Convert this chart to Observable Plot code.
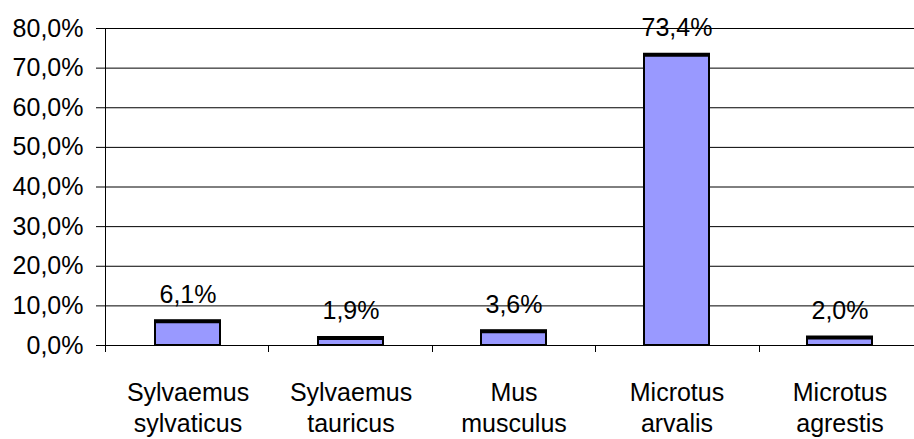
<!DOCTYPE html>
<html><head><meta charset="utf-8">
<script src="https://cdn.jsdelivr.net/npm/d3@7"></script>
<script src="https://cdn.jsdelivr.net/npm/@observablehq/plot@0.6"></script>
<style>body{margin:0;background:#fff;overflow:hidden}</style>
</head><body><div id="chart"></div>
<script>
const categories = ["Sylvaemus sylvaticus", "Sylvaemus tauricus", "Mus musculus", "Microtus arvalis", "Microtus agrestis"];
const values = [6.1, 1.9, 3.6, 73.4, 2.0];
const yTicks = [0, 10, 20, 30, 40, 50, 60, 70, 80];
const data = categories.map((c, i) => ({species: c, value: values[i]}));
const fmt = d => d.toFixed(1).replace(".", ",") + "%";

// category boundary ticks + vertical value axis line, from scales/dimensions
const boundaryTicks = (index, scales, vals, dimensions) => {
  const {width, marginLeft, marginRight} = dimensions;
  const n = categories.length;
  const step = (width - marginLeft - marginRight) / n;
  const y0 = scales.y(0), yTop = scales.y(d3.max(yTicks));
  const g = d3.create("svg:g").attr("stroke", "black").attr("stroke-width", 1);
  g.append("line").attr("x1", marginLeft + 0.5).attr("x2", marginLeft + 0.5)
    .attr("y1", yTop).attr("y2", y0 + 7);
  for (let i = 1; i <= n; i++) {
    const x = Math.round(marginLeft + i * step) + 0.5;
    g.append("line").attr("x1", x).attr("x2", x).attr("y1", y0).attr("y2", y0 + 7);
  }
  return g.node();
};

const chart = Plot.plot({
  width: 914, height: 439,
  marginTop: 28, marginBottom: 94, marginLeft: 105, marginRight: -8,
  style: {fontFamily: "'Liberation Sans', Arial, sans-serif", background: "white", color: "black"},
  x: {domain: categories, paddingInner: 0.6, paddingOuter: 0.3, label: null},
  y: {domain: [0, 80], label: null},
  marks: [
    Plot.gridY(yTicks, {stroke: "black", strokeOpacity: 1}),
    Plot.axisY(yTicks, {tickSize: 9, tickPadding: 13, tickFormat: fmt, fontSize: 25, label: null, stroke: "black"}),
    Plot.axisX({tickSize: 0, tickPadding: 33, fontSize: 25, lineHeight: 1.25, tickFormat: d => d.replace(" ", "\n"), label: null}),
    Plot.ruleY([0], {stroke: "black"}),
    Plot.barY(data, {x: "species", y: "value", fill: "#9999FF", stroke: "black", strokeWidth: 2}),
    Plot.tickY(data, {x: "species", y: "value", stroke: "black", strokeWidth: 4, insetLeft: -1, insetRight: -1}),
    Plot.text(data, {x: "species", y: "value", text: d => fmt(d.value), dy: -18.7, lineAnchor: "bottom", fontSize: 25, fill: "black"}),
    boundaryTicks
  ]
});
document.getElementById("chart").appendChild(chart);
</script>
</body></html>
